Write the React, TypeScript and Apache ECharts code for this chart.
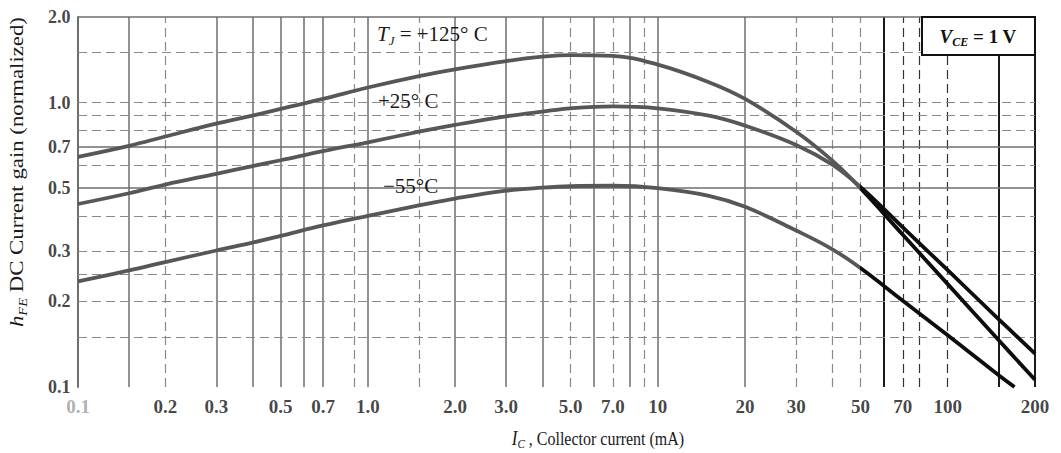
import React, { useEffect, useRef } from 'react';
import * as echarts from 'echarts';

// ---- data ----
const currents = [0.1, 0.15, 0.2, 0.3, 0.4, 0.5, 0.7, 1, 1.5, 2, 3, 4, 5, 7, 10, 15, 20, 30, 40, 50, 70, 100, 150, 200];
const gain125 = [0.645, 0.705, 0.76, 0.843, 0.9, 0.95, 1.03, 1.13, 1.24, 1.31, 1.4, 1.45, 1.47, 1.46, 1.36, 1.18, 1.03, 0.79, 0.625, 0.5, 0.343, 0.23, 0.146, 0.106];
const gain25 = [0.44, 0.48, 0.515, 0.562, 0.598, 0.627, 0.675, 0.725, 0.79, 0.835, 0.895, 0.93, 0.955, 0.97, 0.955, 0.9, 0.83, 0.71, 0.605, 0.505, 0.364, 0.2575, 0.173, 0.131];
const currentsCold = [0.1, 0.15, 0.2, 0.3, 0.4, 0.5, 0.7, 1, 1.5, 2, 3, 4, 5, 7, 10, 15, 20, 30, 40, 50, 70, 100, 150, 170];
const gainMinus55 = [0.235, 0.257, 0.275, 0.302, 0.322, 0.34, 0.37, 0.4, 0.435, 0.46, 0.49, 0.502, 0.508, 0.51, 0.5, 0.47, 0.43, 0.355, 0.305, 0.262, 0.201, 0.152, 0.11, 0.1];

// collector current above which the printed curves turn black
const darkFrom = 50;

const xTickValues = [0.1, 0.2, 0.3, 0.5, 0.7, 1, 2, 3, 5, 7, 10, 20, 30, 50, 70, 100, 200];
const xTickLabels = ['0.1', '0.2', '0.3', '0.5', '0.7', '1.0', '2.0', '3.0', '5.0', '7.0', '10', '20', '30', '50', '70', '100', '200'];
const yTickValues = [0.1, 0.2, 0.3, 0.5, 0.7, 1, 2];
const yTickLabels = ['0.1', '0.2', '0.3', '0.5', '0.7', '1.0', '2.0'];

const xGridSolid = [0.15, 0.3, 0.4, 0.5, 0.6, 0.7, 1, 2, 3, 4, 6, 8, 10, 20, 60, 150, 200];
const xGridDashed = [0.2, 0.9, 1.5, 5, 7, 9, 30, 40, 50, 70, 80, 100];
const yGridSolid = [0.5, 0.7, 2];
const yGridDashed = [0.15, 0.2, 0.25, 0.3, 0.4, 0.6, 0.8, 0.9, 1, 1.5];

const SERIF = '"Liberation Serif", "DejaVu Serif", serif';
const W = 1061;
const H = 453;

export default function App() {
  const ref = useRef<HTMLDivElement>(null);

  useEffect(() => {
    if (!ref.current) return;
    const chart = echarts.init(ref.current, null, { renderer: 'svg' });

    const pair = (xs: number[], ys: number[]) => xs.map((x, i) => [x, ys[i]]);

    const gridLines = [
      ...xGridSolid.map((v) => ({
        xAxis: v,
        lineStyle: { type: 'solid', width: v >= 55 ? 2 : 1.5, color: v >= 55 ? '#1a1a1a' : '#6e6e6e' },
      })),
      ...xGridDashed.map((v) => ({
        xAxis: v,
        lineStyle: { type: [9, 5], width: 1.2, color: v >= 55 ? '#333' : '#8a8a8a' },
      })),
      ...yGridSolid.map((v) => ({
        yAxis: v,
        lineStyle: { type: 'solid', width: 1.5, color: '#6e6e6e' },
      })),
      ...yGridDashed.map((v) => ({
        yAxis: v,
        lineStyle: { type: [9, 5], width: 1.2, color: '#8a8a8a' },
      })),
    ];

    const curves = [
      { name: '+125 °C', pts: pair(currents, gain125) },
      { name: '+25 °C', pts: pair(currents, gain25) },
      { name: '-55 °C', pts: pair(currentsCold, gainMinus55) },
    ];

    const curveColor = (split: number | null): any => {
      if (split == null) return '#575757';
      const p = Math.min(1, Math.max(0, split / W));
      return {
        type: 'linear',
        x: 0,
        y: 0,
        x2: W,
        y2: 0,
        global: true,
        colorStops: [
          { offset: 0, color: '#575757' },
          { offset: p, color: '#575757' },
          { offset: p, color: '#0d0d0d' },
          { offset: 1, color: '#0d0d0d' },
        ],
      };
    };

    const rich = {
      it: { fontFamily: SERIF, fontStyle: 'italic', fontSize: 21, lineHeight: 26, fill: '#1a1a1a' },
      sub: { fontFamily: SERIF, fontStyle: 'italic', fontSize: 13, lineHeight: 13, verticalAlign: 'bottom', fill: '#1a1a1a' },
    };

    const build = (split: number | null) => ({
      animation: false,
      backgroundColor: '#ffffff',
      grid: { left: 78, right: 26, top: 17, bottom: 66, containLabel: false },
      xAxis: {
        type: 'log',
        logBase: 10,
        min: 0.1,
        max: 200,
        axisLine: { show: false },
        axisTick: { show: false },
        axisLabel: { show: false },
        splitLine: { show: false },
      },
      yAxis: {
        type: 'log',
        logBase: 10,
        min: 0.1,
        max: 2,
        axisLine: { show: true, lineStyle: { color: '#6e6e6e', width: 2 } },
        axisTick: { show: false },
        axisLabel: { show: false },
        splitLine: { show: false },
      },
      series: [
        {
          type: 'line',
          name: 'grid',
          data: [[0.1, 0.1]],
          symbol: 'none',
          lineStyle: { opacity: 0 },
          silent: true,
          z: 1,
          markLine: {
            silent: true,
            symbol: ['none', 'none'],
            label: { show: false },
            animation: false,
            data: gridLines,
          },
        },
        ...curves.map((c) => ({
          type: 'line',
          name: c.name,
          data: c.pts,
          smooth: 0.4,
          symbol: 'none',
          lineStyle: { width: 3.8, color: curveColor(split) },
          z: 5,
        })),
        {
          type: 'scatter',
          name: 'xTicks',
          silent: true,
          clip: false,
          symbolSize: 1,
          itemStyle: { color: 'rgba(0,0,0,0)' },
          data: xTickValues.map((v, i) =>
            i === 0
              ? { value: [v, 0.1], name: xTickLabels[i], label: { color: '#9a9a9a' } }
              : { value: [v, 0.1], name: xTickLabels[i] }
          ),
          label: {
            show: true,
            position: 'bottom',
            distance: 9,
            formatter: '{b}',
            fontFamily: SERIF,
            fontSize: 19,
            fontWeight: 'bold',
            color: '#141414',
          },
        },
        {
          type: 'scatter',
          name: 'yTicks',
          silent: true,
          clip: false,
          symbolSize: 1,
          itemStyle: { color: 'rgba(0,0,0,0)' },
          data: yTickValues.map((v, i) => ({ value: [0.1, v], name: yTickLabels[i] })),
          label: {
            show: true,
            position: 'left',
            distance: 7,
            formatter: '{b}',
            fontFamily: SERIF,
            fontSize: 18,
            fontWeight: 'bold',
            color: '#141414',
          },
        },
      ],
      graphic: [
        {
          type: 'text',
          x: 17,
          y: 172,
          rotation: Math.PI / 2,
          scaleX: 1.2,
          z: 50,
          style: {
            text: '{it|h}{sub|FE} DC Current gain (normalized)',
            font: `19px ${SERIF}`,
            fill: '#1a1a1a',
            align: 'center',
            verticalAlign: 'middle',
            rich: {
              it: { fontFamily: SERIF, fontStyle: 'italic', fontSize: 19, lineHeight: 24 },
              sub: { fontFamily: SERIF, fontStyle: 'italic', fontSize: 12, lineHeight: 12, verticalAlign: 'bottom' },
            },
          },
        },
        {
          type: 'text',
          x: 598,
          y: 438,
          scaleY: 1.2,
          z: 50,
          style: {
            text: '{it|I}{sub|C} , Collector current (mA)',
            font: `16px ${SERIF}`,
            fill: '#1a1a1a',
            align: 'center',
            verticalAlign: 'middle',
            rich: {
              it: { fontFamily: SERIF, fontStyle: 'italic', fontSize: 17, lineHeight: 20 },
              sub: { fontFamily: SERIF, fontStyle: 'italic', fontSize: 11, lineHeight: 11, verticalAlign: 'bottom' },
            },
          },
        },
        {
          type: 'text',
          x: 377,
          y: 34,
          z: 50,
          style: {
            text: '{it|T}{sub|J} = +125° C',
            font: `21px ${SERIF}`,
            fill: '#1a1a1a',
            align: 'left',
            verticalAlign: 'middle',
            rich,
          },
        },
        {
          type: 'text',
          x: 378,
          y: 101,
          z: 50,
          style: {
            text: '+25° C',
            font: `21px ${SERIF}`,
            fill: '#1a1a1a',
            align: 'left',
            verticalAlign: 'middle',
          },
        },
        {
          type: 'text',
          x: 383,
          y: 186,
          z: 50,
          style: {
            text: '−55°C',
            font: `21px ${SERIF}`,
            fill: '#1a1a1a',
            align: 'left',
            verticalAlign: 'middle',
          },
        },
        {
          type: 'rect',
          z: 60,
          shape: { x: 922, y: 17, width: 113, height: 38 },
          style: { fill: '#ffffff', stroke: '#111111', lineWidth: 2 },
        },
        {
          type: 'text',
          x: 978,
          y: 36,
          z: 61,
          style: {
            text: '{it|V}{sub|CE} = 1 V',
            font: `bold 19px ${SERIF}`,
            fill: '#111111',
            align: 'center',
            verticalAlign: 'middle',
            rich: {
              it: { fontFamily: SERIF, fontStyle: 'italic', fontWeight: 'bold', fontSize: 19, lineHeight: 24 },
              sub: { fontFamily: SERIF, fontStyle: 'italic', fontWeight: 'bold', fontSize: 12, lineHeight: 12, verticalAlign: 'bottom' },
            },
          },
        },
      ],
    });

    chart.setOption(build(null));
    const px = chart.convertToPixel({ xAxisIndex: 0 }, darkFrom) as number;
    chart.setOption(build(typeof px === 'number' && isFinite(px) ? px : null));

    return () => chart.dispose();
  }, []);

  return (
    <div
      ref={ref}
      style={{ position: 'fixed', left: 0, top: 0, width: W, height: H, background: '#fff' }}
    />
  );
}
